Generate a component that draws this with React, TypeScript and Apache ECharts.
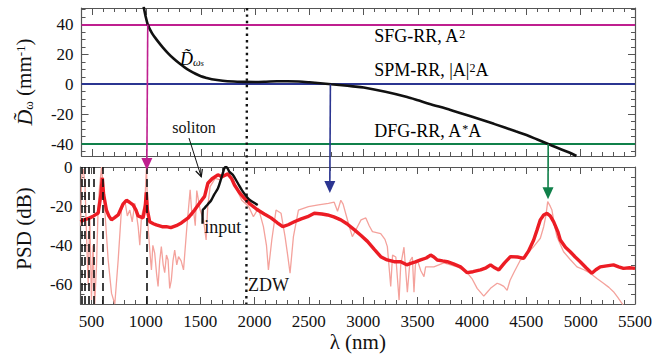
import React, { useEffect, useRef } from 'react';
import * as echarts from 'echarts';

const FONT = 'Liberation Serif';

// ---- Top panel: dispersion curve D(λ) ----
const dispLambda = [972, 990, 1010, 1050, 1100, 1150, 1200, 1250, 1300, 1350, 1400, 1450, 1500, 1550, 1600, 1700, 1800, 1900, 2000, 2100, 2200, 2300, 2400, 2500, 2600, 2700, 2800, 2900, 3000, 3200, 3400, 3500, 3600, 3800, 4000, 4200, 4400, 4500, 4600, 4700, 4800, 4900, 4960];
const dispValues = [52, 45.5, 40, 34, 29, 24.5, 20.5, 17, 14, 11.3, 9, 7, 5.3, 4.2, 3.3, 2.3, 1.8, 1.6, 1.5, 1.7, 2, 2, 1.8, 1.3, 0.7, 0, -0.7, -1.4, -2.2, -5, -8.5, -10.7, -13, -17.2, -21.8, -26.5, -31.5, -34, -37, -40, -43, -45.8, -48];

// resonance levels
const sfgLevel = 40;
const spmLevel = 0;
const dfgLevel = -40;

// arrows: wavelength, start level (top panel), tip in dB (bottom panel)
const arrowLambda = [1010, 2693, 4700];
const arrowStart = [40, 0, -40];
const arrowTipDb = [-1.5, -13.3, -16.5];
const arrowColors = ['#bf1f8f', '#2b3591', '#10804a'];

const zdwLambda = 1925;

// ---- Bottom panel: PSD ----
const outLambda = [400, 430, 460, 485, 520, 562, 585, 600, 612, 638, 660, 684, 710, 746, 790, 822, 850, 883, 910, 929, 975, 995, 1005, 1015, 1036, 1070, 1097, 1150, 1189, 1230, 1280, 1327, 1390, 1449, 1500, 1541, 1571, 1610, 1663, 1700, 1755, 1790, 1816, 1860, 1907, 1960, 2030, 2090, 2152, 2210, 2260, 2310, 2366, 2430, 2489, 2550, 2620, 2672, 2730, 2794, 2850, 2917, 2980, 3039, 3100, 3161, 3220, 3284, 3345, 3400, 3437, 3480, 3528, 3580, 3620, 3650, 3681, 3730, 3773, 3830, 3895, 3956, 4010, 4079, 4130, 4171, 4210, 4247, 4300, 4354, 4420, 4476, 4520, 4568, 4600, 4629, 4660, 4690, 4720, 4752, 4790, 4813, 4860, 4904, 4950, 4996, 5050, 5103, 5140, 5180, 5240, 5302, 5350, 5394, 5450, 5500];
const outDb = [-28, -27, -26.5, -26, -25, -23.5, -15, -5.5, -14, -22, -25, -27, -26, -24.5, -19, -17, -18, -19.4, -22, -25, -26, -20, -13, -22, -28, -29, -29.6, -30.5, -30.5, -31, -30, -28.6, -26, -22, -18, -15, -8.3, -6, -4, -5, -3.5, -6, -9.2, -13, -16, -19, -22, -24, -26, -28.5, -30.5, -29.5, -28, -26.5, -25.4, -23.6, -24, -24.5, -25.5, -27, -29, -32, -35, -38, -42, -45.8, -47.5, -48.4, -48.4, -50, -49.2, -48.5, -47.5, -46.5, -45, -46, -47.5, -48, -48.4, -49.5, -51, -54, -53.5, -52.6, -51.5, -50, -51.5, -52.6, -49, -45.8, -46, -46.7, -43, -37.3, -32, -27, -24.5, -23.7, -25, -28, -33, -37.3, -41, -43.3, -46, -48.4, -51.5, -54.3, -52.5, -51, -50.5, -50, -51, -51.8, -51.5, -51.8];

const rawLambda = [400, 410, 425, 440, 455, 470, 485, 500, 515, 530, 547, 562, 575, 593, 605, 623, 654, 685, 715, 746, 776, 807, 830, 853, 875, 899, 930, 945, 960, 991, 1006, 1021, 1040, 1052, 1065, 1082, 1100, 1113, 1128, 1143, 1160, 1174, 1190, 1205, 1220, 1235, 1250, 1266, 1285, 1301, 1325, 1347, 1378, 1408, 1425, 1439, 1455, 1469, 1500, 1531, 1555, 1570, 1592, 1638, 1684, 1720, 1761, 1790, 1822, 1850, 1883, 1944, 1990, 2036, 2082, 2110, 2128, 2159, 2198, 2244, 2281, 2305, 2327, 2358, 2404, 2496, 2588, 2680, 2733, 2764, 2794, 2815, 2840, 2870, 2900, 2947, 2980, 3024, 3055, 3085, 3161, 3200, 3222, 3253, 3270, 3300, 3330, 3345, 3375, 3406, 3430, 3452, 3467, 3480, 3498, 3530, 3559, 3574, 3650, 3742, 3865, 3956, 4000, 4048, 4109, 4140, 4171, 4232, 4260, 4293, 4324, 4350, 4385, 4446, 4476, 4530, 4568, 4629, 4660, 4680, 4697, 4720, 4736, 4760, 4782, 4843, 4900, 4966, 5030, 5088, 5150, 5210, 5260, 5302, 5340, 5378, 5395];
const rawDb = [-30, -5, -1, -8, -35, -60, -25, -68, -40, -70, -50, -20, -10, 0, -8, -22, -47.5, -64.6, -70, -47.5, -22, -17, -25, -22, -28, -18.6, -30.5, -40, -25.4, -18.6, 0, -30.5, -45, -52.6, -40, -44, -55, -61, -48, -40.7, -50, -54, -45, -47.5, -62, -57.8, -48, -42.4, -50, -45.8, -48, -52.6, -30.5, -11.7, -25, -22, -30, -12, -22, -27, -37.3, -20, -10, -5.8, -6.6, -4.5, -3.2, -6, -10, -13, -17, -20, -25.4, -21, -30.5, -40, -52.6, -37.3, -22, -23.6, -35.6, -45, -54.3, -35.6, -22, -20.3, -19.4, -18.6, -18, -22.6, -17, -19, -24, -30, -35.6, -30.5, -27, -26, -30, -33, -34, -37, -40.7, -61, -45, -46, -68, -50, -41, -64, -48, -46, -64, -50, -47.5, -53, -56, -51, -51, -49, -51, -54, -57, -62, -66, -64, -62, -59.4, -60, -61, -63, -58, -54, -47.5, -47, -43, -40.7, -36.4, -30.5, -25, -17.7, -20, -22, -30, -35.6, -43.3, -47, -51, -52.5, -54.3, -57, -59.4, -61.5, -63.7, -66.5, -69.5, -71];

const inputLambda = [1522, 1524, 1541, 1571, 1602, 1630, 1663, 1694, 1715, 1724, 1740, 1755, 1770, 1800, 1847, 1893, 1950, 2030];
const inputDb = [-29, -22, -21, -19, -17, -14, -11, -5.8, -2, -0.5, 0, -1, -2.5, -4, -8.3, -12.6, -16.5, -19.4];

const dashedLambda = [410, 440, 473, 519, 608, 1005];

// ---- Axes ----
const xMin = 400;
const xMax = 5500;
const xLabels = [500, 1000, 1500, 2000, 2500, 3000, 3500, 4000, 4500, 5000, 5500];
const topYLabels = [-40, -20, 0, 20, 40];
const bottomYLabels = [-60, -40, -20, 0];
const topYMin = -48;
const topYMax = 51;
const botYMin = -70;
const botYMax = 0;

function range(a: number, b: number, s: number) {
  const r: number[] = [];
  for (let v = a; v <= b + 1e-9; v += s) r.push(v);
  return r;
}
const xTicks = range(xMin, xMax, 100);
const topYTicks = range(-45, 50, 5);
const botYTicks = range(-70, 0, 5);

const zip = (a: number[], b: number[]) => a.map((v, i) => [v, b[i]]);

const AXIS_COLOR = '#555';
const labelRich = { a: { fontFamily: FONT, fontSize: 17, color: '#111' } };
const richFmt = (v: number) => `{a|${v}}`;

function xAxis(gridIndex: number, position: 'top' | 'bottom', labels: boolean, ticks: number[] = xTicks, len = 4, line = true) {
  return {
    type: 'value',
    gridIndex,
    position,
    min: xMin,
    max: xMax,
    axisLine: { show: line, onZero: false, lineStyle: { color: AXIS_COLOR, width: 1.2 } },
    axisTick: { show: true, inside: true, length: len, customValues: ticks, lineStyle: { color: AXIS_COLOR } },
    axisLabel: labels
      ? { show: true, customValues: xLabels, formatter: richFmt, rich: labelRich, fontFamily: FONT, fontSize: 17, color: '#111', margin: 9 }
      : { show: false },
    splitLine: { show: false },
  };
}

function yAxis(gridIndex: number, position: 'left' | 'right', min: number, max: number, ticks: number[], labels: number[] | null, len = 4, line = true) {
  return {
    type: 'value',
    gridIndex,
    position,
    min,
    max,
    axisLine: { show: line, onZero: false, lineStyle: { color: AXIS_COLOR, width: 1.2 } },
    axisTick: { show: true, inside: true, length: len, customValues: ticks, lineStyle: { color: AXIS_COLOR } },
    axisLabel: labels
      ? { show: true, customValues: labels, formatter: richFmt, rich: labelRich, fontFamily: FONT, fontSize: 17, color: '#111', margin: 8 }
      : { show: false },
    splitLine: { show: false },
  };
}

const baseTok = { fontFamily: FONT, color: '#111' };

export default function App() {
  const ref = useRef<HTMLDivElement>(null);
  useEffect(() => {
    if (!ref.current) return;
    const chart = echarts.init(ref.current, null, { renderer: 'svg' });
    const topYAxis: any = yAxis(0, 'left', topYMin, topYMax, topYTicks, topYLabels);
    topYAxis.name = '{d|D\u0303}{sub|ω}{t| (mm}{sup|-1}{t|)}';
    topYAxis.nameLocation = 'middle';
    topYAxis.nameRotate = 90;
    topYAxis.nameGap = 40;
    topYAxis.nameTextStyle = {
      rich: {
        t: { ...baseTok, fontSize: 21, lineHeight: 21, padding: [5, 0, 5, 0] },
        d: { ...baseTok, fontSize: 22, fontStyle: 'italic', lineHeight: 21, padding: [5, 0, 5, 0] },
        sub: { ...baseTok, fontSize: 13, lineHeight: 13, verticalAlign: 'bottom' },
        sup: { ...baseTok, fontSize: 13, lineHeight: 13, verticalAlign: 'top' },
      },
    };
    const botYAxis: any = yAxis(1, 'left', botYMin, botYMax, botYTicks, bottomYLabels);
    botYAxis.name = '{t|PSD (dB)}';
    botYAxis.nameLocation = 'middle';
    botYAxis.nameRotate = 90;
    botYAxis.nameGap = 40;
    botYAxis.nameTextStyle = { padding: [0, 0, 0, 14], rich: { t: { ...baseTok, fontSize: 21, lineHeight: 21, padding: [5, 0, 5, 0] } } };

    const botXAxis: any = xAxis(1, 'bottom', true);
    botXAxis.name = '{t|λ (nm)}';
    botXAxis.nameLocation = 'middle';
    botXAxis.nameGap = 27;
    botXAxis.nameTextStyle = { rich: { t: { ...baseTok, fontSize: 21, lineHeight: 21 } } };

    chart.setOption({
      animation: false,
      backgroundColor: '#fff',
      textStyle: { fontFamily: FONT },
      grid: [
        { left: 79, right: 34, top: 8, height: 148 },
        { left: 79, right: 34, top: 167, height: 137 },
      ],
      xAxis: [
        xAxis(0, 'bottom', false), xAxis(0, 'top', false), botXAxis, xAxis(1, 'top', false),
        xAxis(0, 'bottom', false, xLabels, 7, false), xAxis(0, 'top', false, xLabels, 7, false),
        xAxis(1, 'bottom', false, xLabels, 7, false), xAxis(1, 'top', false, xLabels, 7, false),
      ],
      yAxis: [
        topYAxis, yAxis(0, 'right', topYMin, topYMax, topYTicks, null), botYAxis, yAxis(1, 'right', botYMin, botYMax, botYTicks, null),
        yAxis(0, 'left', topYMin, topYMax, topYLabels, null, 7, false), yAxis(0, 'right', topYMin, topYMax, topYLabels, null, 7, false),
        yAxis(1, 'left', botYMin, botYMax, bottomYLabels, null, 7, false), yAxis(1, 'right', botYMin, botYMax, bottomYLabels, null, 7, false),
      ],
      series: [
        {
          type: 'line',
          xAxisIndex: 0,
          yAxisIndex: 0,
          data: [],
          symbol: 'none',
          markLine: {
            silent: true,
            symbol: 'none',
            label: { show: false },
            data: [
              { yAxis: sfgLevel, lineStyle: { color: '#bf1f8f', width: 2.2, type: 'solid' } },
              { yAxis: spmLevel, lineStyle: { color: '#2b3591', width: 2.2, type: 'solid' } },
              { yAxis: dfgLevel, lineStyle: { color: '#10804a', width: 2.2, type: 'solid' } },
            ],
          },
        },
        {
          type: 'line',
          xAxisIndex: 0,
          yAxisIndex: 0,
          data: zip(dispLambda, dispValues),
          symbol: 'none',
          smooth: 0.3,
          clip: true,
          lineStyle: { color: '#111', width: 2.6 },
          z: 5,
        },
        {
          type: 'line',
          xAxisIndex: 2,
          yAxisIndex: 2,
          data: zip(rawLambda, rawDb),
          symbol: 'none',
          clip: true,
          lineStyle: { color: '#f4a29c', width: 1.3 },
          markLine: {
            silent: true,
            symbol: 'none',
            label: { show: false },
            lineStyle: { color: '#111', width: 1.6, type: [8, 5] },
            data: dashedLambda.map((v) => ({ xAxis: v })),
          },
          z: 3,
        },
        {
          type: 'line',
          xAxisIndex: 2,
          yAxisIndex: 2,
          data: zip(outLambda, outDb),
          symbol: 'none',
          clip: true,
          lineStyle: { color: '#ec1c24', width: 3.4 },
          z: 4,
        },
        {
          type: 'line',
          xAxisIndex: 2,
          yAxisIndex: 2,
          data: zip(inputLambda, inputDb),
          symbol: 'none',
          smooth: 0.3,
          clip: true,
          lineStyle: { color: '#111', width: 2.4 },
          z: 5,
        },
      ],
    });

    const pt = (top: boolean, x: number, y: number) =>
      chart.convertToPixel(top ? { xAxisIndex: 0, yAxisIndex: 0 } : { xAxisIndex: 2, yAxisIndex: 2 }, [x, y]) as number[];

    const graphics: any[] = [];
    // vertical arrows
    arrowLambda.forEach((lam, i) => {
      const s = pt(true, lam, arrowStart[i]);
      const t = pt(false, lam, arrowTipDb[i]);
      const c = arrowColors[i];
      graphics.push({ type: 'line', z: 20, shape: { x1: s[0], y1: s[1], x2: t[0], y2: t[1] - 10 }, style: { stroke: c, lineWidth: 1.6 } });
      graphics.push({ type: 'polygon', z: 20, shape: { points: [[t[0] - 5.5, t[1] - 12], [t[0] + 5.5, t[1] - 12], [t[0], t[1]]] }, style: { fill: c } });
    });
    // ZDW dotted line across both panels
    const zTop = pt(true, zdwLambda, topYMax);
    const zBot = pt(false, zdwLambda, botYMin);
    graphics.push({ type: 'line', z: 19, shape: { x1: zTop[0], y1: zTop[1], x2: zBot[0], y2: zBot[1] }, style: { stroke: '#111', lineWidth: 2.4, lineDash: [2.4, 4] } });

    // soliton arrow
    const sa = pt(true, 1390, -36);
    const sb = pt(false, 1510, -5);
    const ang = Math.atan2(sb[1] - sa[1], sb[0] - sa[0]);
    const hl = 8;
    const a1 = [sb[0] - hl * Math.cos(ang - 0.45), sb[1] - hl * Math.sin(ang - 0.45)];
    const a2 = [sb[0] - hl * Math.cos(ang + 0.45), sb[1] - hl * Math.sin(ang + 0.45)];
    graphics.push({ type: 'line', z: 20, shape: { x1: sa[0], y1: sa[1], x2: sb[0], y2: sb[1] }, style: { stroke: '#111', lineWidth: 1 } });
    graphics.push({ type: 'polyline', z: 20, shape: { points: [a1, sb, a2] }, style: { stroke: '#111', lineWidth: 1.2, fill: null } });

    const richLabel = (color: string) => ({
      t: { fontFamily: FONT, fontSize: 18, color, lineHeight: 17, padding: [12, 0, 0, 0], verticalAlign: 'bottom' },
      s: { fontFamily: FONT, fontSize: 12, color, lineHeight: 11, verticalAlign: 'top' },
    });
    const lbl = (x: number, y: number, text: string, color: string) => {
      const p = pt(true, x, y);
      graphics.push({ type: 'text', z: 21, x: p[0], y: p[1], style: { text, rich: richLabel(color), align: 'left', verticalAlign: 'middle' } });
    };
    lbl(3097, 32, '{t|SFG-RR, A}{s|2}', '#bf1f8f');
    lbl(3097, 9, '{t|SPM-RR, |A|}{s|2}{t|A}', '#2b3591');
    lbl(3097, -31.5, '{t|DFG-RR, A}{s|*}{t|A}', '#10804a');

    const dp = pt(true, 1418, 17);
    graphics.push({
      type: 'text', z: 21, x: dp[0], y: dp[1],
      style: {
        text: '{d|D\u0303}{s|ω}{ss|s}',
        align: 'center', verticalAlign: 'middle',
        rich: {
          d: { fontFamily: FONT, fontStyle: 'italic', fontSize: 18, color: '#111', lineHeight: 17, padding: [4, 0, 4, 0] },
          s: { fontFamily: FONT, fontStyle: 'italic', fontSize: 11, color: '#111', lineHeight: 11, verticalAlign: 'bottom' },
          ss: { fontFamily: FONT, fontStyle: 'italic', fontSize: 8, color: '#111', lineHeight: 5, verticalAlign: 'bottom' },
        },
      },
    });
    const sp = pt(true, 1437, -28.7);
    graphics.push({ type: 'text', z: 21, x: sp[0], y: sp[1], style: { text: 'soliton', fontFamily: FONT, fontSize: 16, fill: '#111', align: 'center', verticalAlign: 'middle' } });
    const ip = pt(false, 1538, -30.7);
    graphics.push({ type: 'text', z: 21, x: ip[0], y: ip[1], style: { text: 'input', fontFamily: FONT, fontSize: 18, fill: '#111', align: 'left', verticalAlign: 'middle' } });
    const zp = pt(false, 1941, -60.3);
    graphics.push({ type: 'text', z: 21, x: zp[0], y: zp[1], style: { text: 'ZDW', fontFamily: FONT, fontSize: 18, fill: '#111', align: 'left', verticalAlign: 'middle' } });

    chart.setOption({ graphic: graphics });
    return () => chart.dispose();
  }, []);
  return <div ref={ref} style={{ position: 'fixed', left: 0, top: 0, width: 669, height: 360 }} />;
}
